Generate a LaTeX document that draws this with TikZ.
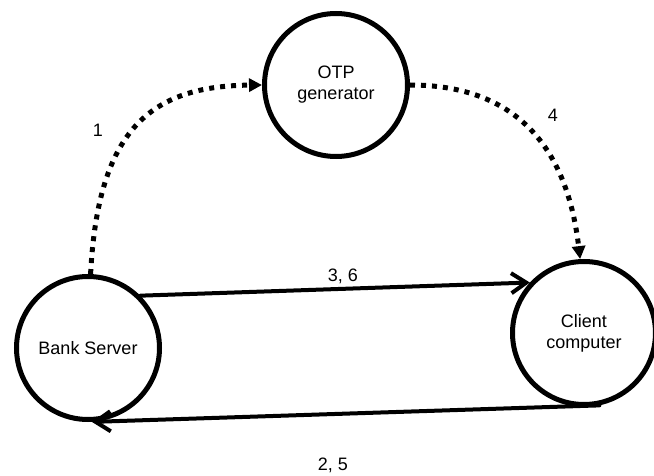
\documentclass[tikz,border=0pt]{standalone}
\usepackage{fontspec}
\setmainfont{Liberation Sans}
\usetikzlibrary{arrows.meta}
\begin{document}
\begin{tikzpicture}[x=1pt,y=-1pt,
  station/.style={circle,draw,line width=5pt,minimum size=143pt,inner sep=0pt,
    align=center,font=\fontsize{18}{21}\selectfont},
  lbl/.style={font=\fontsize{18}{21}\selectfont,inner sep=0pt},
  otpflow/.style={line width=5pt,dash pattern=on 5pt off 6pt,
    -{Triangle[length=13pt,width=13pt]}},
  dataflow/.style={line width=4pt,line cap=round,
    -{Straight Barb[length=15pt,width=20pt]}}]
\useasboundingbox (0,0) rectangle (654,476);

% the three parties
\node[station] (otp)    at (336,85)  {OTP\\generator};
\node[station] (bank)   at (88,348)  {Bank Server};
\node[station] (client) at (584,333) {Client\\computer};

% OTP exchange (dotted)
\draw[otpflow] (bank.88) .. controls (98,130) and (150,86) .. (otp.west);
\draw[otpflow] (otp.east) .. controls (500,85) and (565,130) .. (client.93);

% direct traffic between server and client
\draw[dataflow] (bank.45) -- (client.137);
\draw[dataflow] (client.-78) -- (bank.-87);

% step numbers
\node[lbl] (s1)  at (98,130)  {1};
\node[lbl] (s4)  at (553,115) {4};
\node[lbl] (s36) at (343,276) {3, 6};
\node[lbl] (s25) at (333,465) {2, 5};
\end{tikzpicture}
\end{document}
